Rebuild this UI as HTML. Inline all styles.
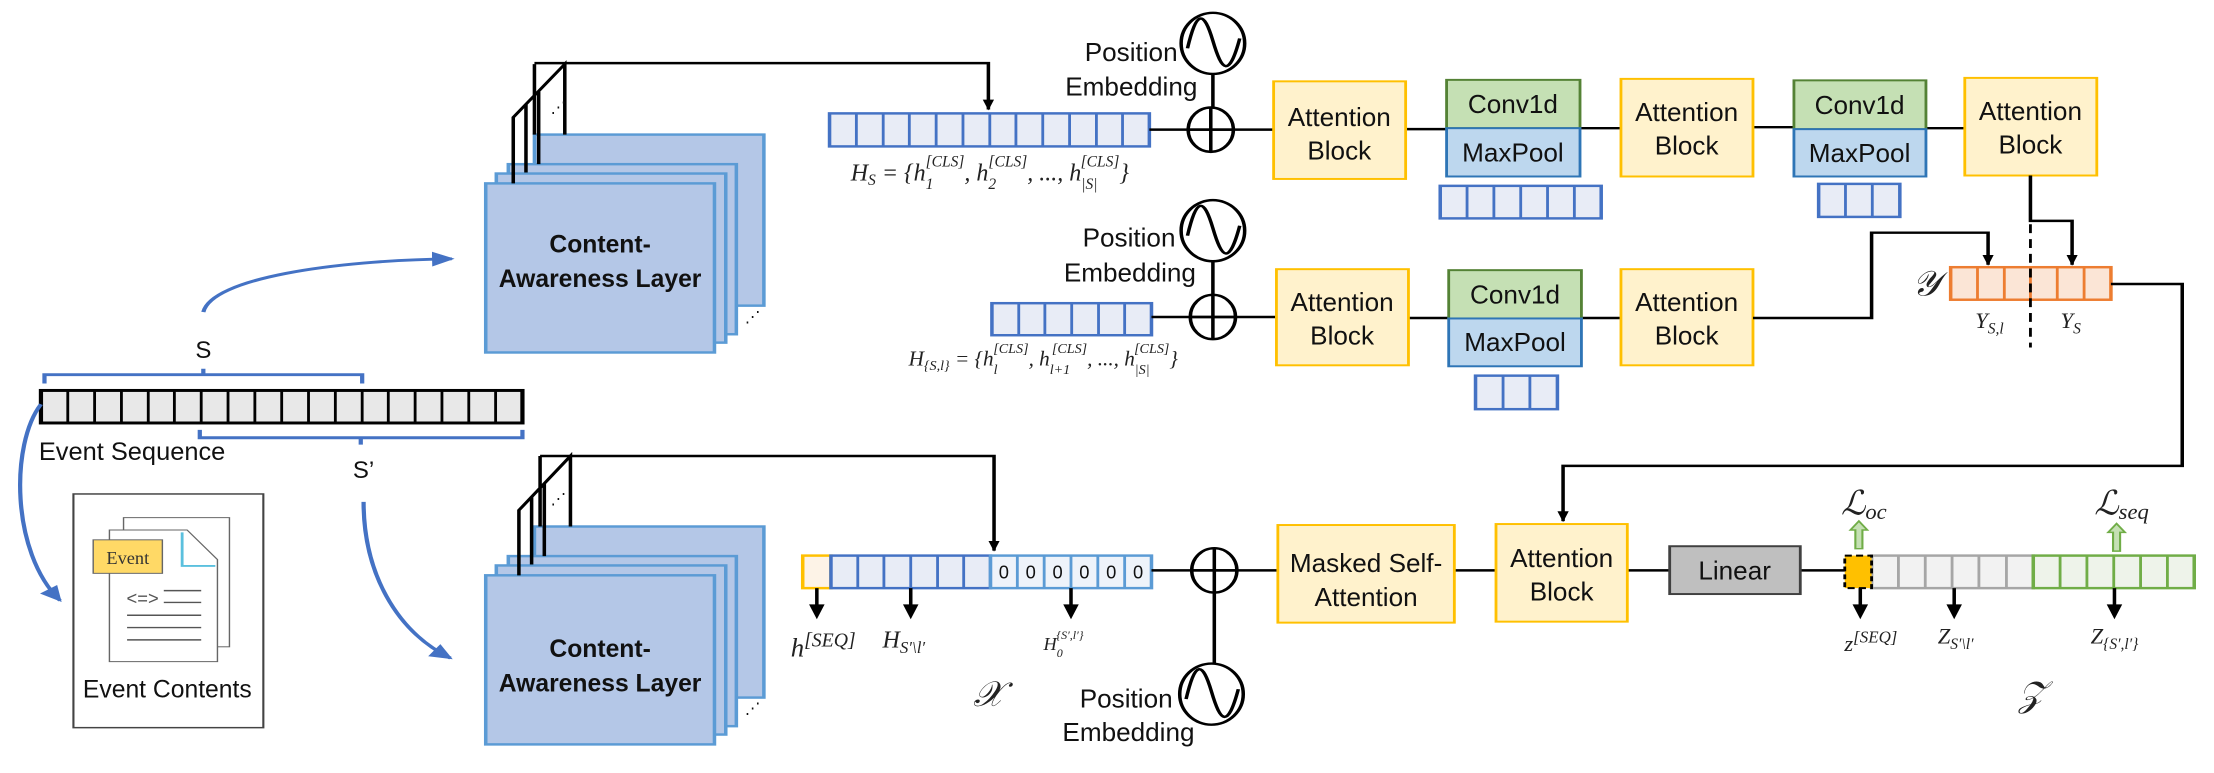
<!DOCTYPE html>
<html><head><meta charset="utf-8"><style>
html,body{margin:0;padding:0;background:#fff;overflow:hidden;}
svg{display:block;}
text{transform-box:fill-box;transform-origin:center;transform:scaleY(1.432);}
.t{font-family:"Liberation Sans",sans-serif;fill:#111;}
.m{font-family:"Liberation Serif",serif;font-style:italic;fill:#222;}
</style></head><body>
<svg width="2214" height="773" viewBox="0 0 3136 1568" preserveAspectRatio="none" xmlns="http://www.w3.org/2000/svg">
<defs>
<marker id="ah" markerUnits="userSpaceOnUse" markerWidth="24" markerHeight="24" refX="20" refY="10" orient="auto"><path d="M0,2 L22,10 L0,18 z" fill="#000"/></marker>
<marker id="bh" markerUnits="userSpaceOnUse" markerWidth="34" markerHeight="34" refX="28" refY="15" orient="auto"><path d="M0,0 L32,15 L0,30 z" fill="#4472c4"/></marker>
</defs>
<rect width="3136" height="1568" fill="#fff"/>

<!-- Event sequence -->
<rect x="58" y="792" width="682" height="66" fill="#e8e8e8" stroke="#000" stroke-width="6"/>
<path d="M96 792v66M134 792v66M172 792v66M210 792v66M247 792v66M285 792v66M323 792v66M361 792v66M399 792v66M437 792v66M475 792v66M513 792v66M550 792v66M588 792v66M626 792v66M664 792v66M702 792v66" stroke="#000" stroke-width="4"/>
<path d="M63 778V760H513V778M288 760V748" fill="none" stroke="#4472c4" stroke-width="6"/>
<path d="M283 872V888H740V872M511 888V902" fill="none" stroke="#4472c4" stroke-width="6"/>
<text class="t" x="288" y="722" font-size="34" text-anchor="middle">S</text>
<text class="t" x="515" y="965" font-size="34" text-anchor="middle">S’</text>
<text class="t" x="55" y="928" font-size="36">Event Sequence</text>

<!-- Event contents -->
<rect x="104" y="1002" width="269" height="474" fill="#fff" stroke="#444" stroke-width="3"/>
<rect x="175" y="1050" width="150" height="262" fill="#fff" stroke="#666" stroke-width="2"/>
<path d="M155 1075H265L308 1135V1342H155Z" fill="#fff" stroke="#666" stroke-width="2"/>
<path d="M258 1080V1148H305" fill="none" stroke="#5bc0de" stroke-width="4"/>
<rect x="132" y="1095" width="98" height="68" fill="#ffd966" stroke="#666" stroke-width="2"/>
<text x="181" y="1140" font-size="26" text-anchor="middle" font-family="Liberation Serif,serif" fill="#333">Event</text>
<text x="202" y="1222" font-size="26" text-anchor="middle" font-family="Liberation Sans,sans-serif" fill="#555">&lt;=&gt;</text>
<path d="M232 1198H285M232 1222H285M180 1248H285M180 1273H285M180 1298H285" stroke="#555" stroke-width="3"/>
<text class="t" x="237" y="1410" font-size="35" text-anchor="middle">Event Contents</text>

<!-- blue curved arrows -->
<path d="M288 633C300 565 470 528 640 525" fill="none" stroke="#4472c4" stroke-width="6" marker-end="url(#bh)"/>
<path d="M58 820C15 900 15 1120 85 1218" fill="none" stroke="#4472c4" stroke-width="6" marker-end="url(#bh)"/>
<path d="M515 1018C515 1160 560 1280 638 1335" fill="none" stroke="#4472c4" stroke-width="6" marker-end="url(#bh)"/>

<!-- CAL top -->
<g stroke="#5b9bd5" stroke-width="5" fill="#b4c7e7">
<rect x="757" y="273" width="325" height="347"/>
<rect x="720" y="333" width="323" height="345"/>
<rect x="703" y="352" width="325" height="343"/>
<rect x="688" y="372" width="324" height="343"/>
</g>
<text class="t" x="850" y="508" font-size="35" font-weight="bold" text-anchor="middle">Content-</text>
<text class="t" x="850" y="578" font-size="35" font-weight="bold" text-anchor="middle">Awareness Layer</text>
<path d="M727 372V238L800 130V273M745 350V212M763 333V186M757 130V273" fill="none" stroke="#000" stroke-width="5"/>
<path d="M757 128H1400V222" fill="none" stroke="#000" stroke-width="5" marker-end="url(#ah)"/>
<text x="780" y="225" font-size="22" class="t">⋰</text>
<text x="1055" y="650" font-size="22" class="t">⋰</text>

<!-- CAL bottom -->
<g stroke="#5b9bd5" stroke-width="5" fill="#b4c7e7">
<rect x="757" y="1068" width="325" height="347"/>
<rect x="720" y="1128" width="323" height="345"/>
<rect x="703" y="1147" width="325" height="343"/>
<rect x="688" y="1167" width="324" height="343"/>
</g>
<text class="t" x="850" y="1328" font-size="35" font-weight="bold" text-anchor="middle">Content-</text>
<text class="t" x="850" y="1398" font-size="35" font-weight="bold" text-anchor="middle">Awareness Layer</text>
<path d="M735 1167V1035L808 925V1068M753 1145V1007M771 1128V982M765 925V1068" fill="none" stroke="#000" stroke-width="5"/>
<path d="M765 925H1408V1117" fill="none" stroke="#000" stroke-width="5" marker-end="url(#ah)"/>
<text x="780" y="1020" font-size="22" class="t">⋰</text>
<text x="1055" y="1445" font-size="22" class="t">⋰</text>

<!-- H_S bar -->
<rect x="1175" y="230" width="453" height="67" fill="#e8ecf6" stroke="#4472c4" stroke-width="5"/>
<path d="M1213 230v67M1251 230v67M1288 230v67M1326 230v67M1364 230v67M1402 230v67M1439 230v67M1477 230v67M1515 230v67M1553 230v67M1590 230v67" stroke="#4472c4" stroke-width="4"/>
<text class="m" x="1205" y="362" font-size="34">H<tspan font-size="22" dy="6">S</tspan><tspan dy="-6"> = {h</tspan><tspan font-size="22" dy="12">1</tspan><tspan font-size="22" dx="-11" dy="-32">[CLS]</tspan><tspan dy="20">, h</tspan><tspan font-size="22" dy="12">2</tspan><tspan font-size="22" dx="-11" dy="-32">[CLS]</tspan><tspan dy="20">, ..., h</tspan><tspan font-size="22" dy="12">|S|</tspan><tspan font-size="22" dx="-24" dy="-32">[CLS]</tspan><tspan dy="20">}</tspan></text>

<!-- H_Sl bar -->
<rect x="1405" y="615" width="226" height="65" fill="#e8ecf6" stroke="#4472c4" stroke-width="5"/>
<path d="M1443 615v65M1480 615v65M1518 615v65M1556 615v65M1593 615v65" stroke="#4472c4" stroke-width="4"/>
<text class="m" x="1287" y="738" font-size="30">H<tspan font-size="20" dy="6">{S,l}</tspan><tspan dy="-6"> = {h</tspan><tspan font-size="20" dy="12">l</tspan><tspan font-size="20" dx="-6" dy="-30">[CLS]</tspan><tspan dy="18">, h</tspan><tspan font-size="20" dy="12">l+1</tspan><tspan font-size="20" dx="-26" dy="-30">[CLS]</tspan><tspan dy="18">, ..., h</tspan><tspan font-size="20" dy="12">|S|</tspan><tspan font-size="20" dx="-22" dy="-30">[CLS]</tspan><tspan dy="18">}</tspan></text>

<!-- X bar -->
<rect x="1137" y="1127" width="40" height="66" fill="#fdf3e7" stroke="#ffc000" stroke-width="5"/>
<rect x="1177" y="1127" width="226" height="66" fill="#e8ecf6" stroke="#4472c4" stroke-width="5"/>
<path d="M1215 1127v66M1252 1127v66M1290 1127v66M1328 1127v66M1365 1127v66" stroke="#4472c4" stroke-width="4"/>
<rect x="1403" y="1127" width="228" height="66" fill="#eef3fa" stroke="#5b9bd5" stroke-width="5"/>
<path d="M1441 1127v66M1479 1127v66M1517 1127v66M1555 1127v66M1593 1127v66" stroke="#5b9bd5" stroke-width="4"/>
<g class="t" font-size="26" text-anchor="middle"><text x="1422" y="1170">0</text><text x="1460" y="1170">0</text><text x="1498" y="1170">0</text><text x="1536" y="1170">0</text><text x="1574" y="1170">0</text><text x="1612" y="1170">0</text></g>
<path d="M1157 1193V1230M1290 1193V1230M1517 1193V1230" stroke="#000" stroke-width="5"/>
<path d="M1146 1226H1168L1157 1256ZM1279 1226H1301L1290 1256ZM1506 1226H1528L1517 1256Z" fill="#000"/>
<text class="m" x="1120" y="1325" font-size="38">h<tspan font-size="28" dy="-14">[SEQ]</tspan></text>
<text class="m" x="1250" y="1310" font-size="34">H<tspan font-size="24" dy="8">S′\l′</tspan></text>
<text class="m" x="1478" y="1315" font-size="26">H<tspan font-size="17" dy="10">0</tspan><tspan font-size="17" dx="-9" dy="-26">{S′,l′}</tspan></text>
<text class="m" x="1400" y="1425" font-size="50" text-anchor="middle">𝒳</text>

<!-- Position embeddings -->
<g class="t" font-size="37" text-anchor="end">
<text x="1668" y="118">Position</text><text x="1696" y="188">Embedding</text>
<text x="1665" y="495">Position</text><text x="1694" y="565">Embedding</text>
<text x="1661" y="1430">Position</text><text x="1692" y="1498">Embedding</text>
</g>
<g fill="#fff" stroke="#000" stroke-width="5">
<ellipse cx="1718" cy="88" rx="45" ry="62"/><ellipse cx="1718" cy="468" rx="45" ry="62"/><ellipse cx="1716" cy="1408" rx="45" ry="62"/>
</g>
<g fill="none" stroke="#000" stroke-width="5">
<path d="M1682 98C1695 20 1705 20 1718 83S1741 158 1756 78"/>
<path d="M1682 478C1695 400 1705 400 1718 463S1741 538 1756 458"/>
<path d="M1680 1418C1693 1340 1703 1340 1716 1403S1739 1478 1754 1398"/>
<path d="M1718 150V218M1718 530V598M1720 1202V1346"/>
<path d="M1628 263H1804M1631 643H1808M1631 1157H1810"/>
<ellipse cx="1715" cy="263" rx="32" ry="45"/><path d="M1683 263H1747M1715 218V308"/>
<ellipse cx="1718" cy="643" rx="32" ry="45"/><path d="M1686 643H1750M1718 598V688"/>
<ellipse cx="1720" cy="1157" rx="32" ry="45"/><path d="M1688 1157H1752M1720 1112V1202"/>
<path d="M1991 262H2049M2238 260H2296M2483 258H2541M2728 260H2783"/>
<path d="M1995 645H2052M2240 645H2296"/>
<path d="M2060 1157H2119M2305 1157H2365M2550 1157H2613"/>
</g>

<!-- blocks -->
<g stroke="#ffc000" stroke-width="4" fill="#fff2cc">
<rect x="1804" y="165" width="187" height="198"/>
<rect x="2296" y="160" width="187" height="198"/>
<rect x="2783" y="158" width="187" height="198"/>
<rect x="1808" y="546" width="187" height="195"/>
<rect x="2296" y="546" width="187" height="195"/>
<rect x="1810" y="1065" width="250" height="198"/>
<rect x="2119" y="1063" width="186" height="198"/>
</g>
<g stroke="#548235" stroke-width="4" fill="#c5e0b4">
<rect x="2049" y="162" width="189" height="98"/><rect x="2541" y="163" width="187" height="99"/><rect x="2052" y="548" width="188" height="98"/>
</g>
<g stroke="#2e75b6" stroke-width="4" fill="#bdd7ee">
<rect x="2049" y="260" width="189" height="98"/><rect x="2541" y="262" width="187" height="96"/><rect x="2052" y="646" width="188" height="97"/>
</g>
<rect x="2365" y="1108" width="185" height="97" fill="#bfbfbf" stroke="#404040" stroke-width="4"/>
<g class="t" font-size="37" text-anchor="middle">
<text x="1897" y="250">Attention</text><text x="1897" y="318">Block</text>
<text x="2389" y="240">Attention</text><text x="2389" y="308">Block</text>
<text x="2876" y="238">Attention</text><text x="2876" y="306">Block</text>
<text x="1901" y="625">Attention</text><text x="1901" y="693">Block</text>
<text x="2389" y="625">Attention</text><text x="2389" y="693">Block</text>
<text x="1935" y="1155">Masked Self-</text><text x="1935" y="1224">Attention</text>
<text x="2212" y="1145">Attention</text><text x="2212" y="1213">Block</text>
<text x="2143" y="224">Conv1d</text><text x="2143" y="322">MaxPool</text>
<text x="2634" y="226">Conv1d</text><text x="2634" y="323">MaxPool</text>
<text x="2146" y="610">Conv1d</text><text x="2146" y="707">MaxPool</text>
<text x="2457" y="1170">Linear</text>
</g>

<!-- small bars -->
<g stroke="#4472c4" stroke-width="5" fill="#e8ecf6">
<rect x="2040" y="377" width="228" height="66"/><rect x="2576" y="373" width="115" height="67"/><rect x="2090" y="762" width="116" height="68"/>
</g>
<path d="M2078 377v66M2116 377v66M2154 377v66M2192 377v66M2230 377v66M2614 373v67M2652 373v67M2129 762v68M2167 762v68" stroke="#4472c4" stroke-width="4"/>

<!-- Y bar -->
<path d="M2876 356V448H2935V537" fill="none" stroke="#000" stroke-width="5" marker-end="url(#ah)"/>
<path d="M2483 645H2651V472H2816V537" fill="none" stroke="#000" stroke-width="5" marker-end="url(#ah)"/>
<rect x="2763" y="542" width="227" height="66" fill="#fbe5d6" stroke="#ed7d31" stroke-width="5"/>
<path d="M2801 542v66M2839 542v66M2876 542v66M2914 542v66M2952 542v66" stroke="#ed7d31" stroke-width="4"/>
<path d="M2876 455V705" stroke="#000" stroke-width="4" stroke-dasharray="18 12"/>
<text class="m" x="2728" y="592" font-size="50" text-anchor="middle">𝒴</text>
<text class="m" x="2818" y="662" font-size="32" text-anchor="middle">Y<tspan font-size="22" dy="8">S,l</tspan></text>
<text class="m" x="2933" y="662" font-size="32" text-anchor="middle">Y<tspan font-size="22" dy="8">S</tspan></text>
<path d="M2990 576H3091V945H2214V1057" fill="none" stroke="#000" stroke-width="5" marker-end="url(#ah)"/>

<!-- Z bar -->
<rect x="2651" y="1127" width="229" height="66" fill="#f2f2f2" stroke="#a6a6a6" stroke-width="5"/>
<path d="M2689 1127v66M2727 1127v66M2765 1127v66M2803 1127v66M2842 1127v66" stroke="#a6a6a6" stroke-width="4"/>
<rect x="2880" y="1127" width="228" height="66" fill="#eef3ea" stroke="#70ad47" stroke-width="5"/>
<path d="M2918 1127v66M2956 1127v66M2994 1127v66M3032 1127v66M3070 1127v66" stroke="#70ad47" stroke-width="4"/>
<rect x="2613" y="1127" width="38" height="66" fill="#ffc000" stroke="#000" stroke-width="4" stroke-dasharray="10 6"/>
<path d="M2628 1113V1075H2621L2633 1057L2645 1075H2638V1113Z" fill="#c5e0b4" stroke="#70ad47" stroke-width="3"/>
<path d="M2993 1118V1080H2986L2998 1062L3010 1080H3003V1118Z" fill="#c5e0b4" stroke="#70ad47" stroke-width="3"/>
<text class="m" x="2640" y="1038" font-size="48" text-anchor="middle">ℒ<tspan font-size="32" dy="6">oc</tspan></text>
<text class="m" x="3005" y="1038" font-size="48" text-anchor="middle">ℒ<tspan font-size="32" dy="6">seq</tspan></text>
<path d="M2635 1193V1230M2768 1193V1230M2995 1193V1230" stroke="#000" stroke-width="5"/>
<path d="M2624 1226H2646L2635 1256ZM2757 1226H2779L2768 1256ZM2984 1226H3006L2995 1256Z" fill="#000"/>
<text class="m" x="2650" y="1315" font-size="32" text-anchor="middle">z<tspan font-size="24" dy="-12">[SEQ]</tspan></text>
<text class="m" x="2770" y="1302" font-size="32" text-anchor="middle">Z<tspan font-size="22" dy="8">S′\l′</tspan></text>
<text class="m" x="2995" y="1302" font-size="32" text-anchor="middle">Z<tspan font-size="22" dy="8">{S′,l′}</tspan></text>
<text class="m" x="2878" y="1425" font-size="50" text-anchor="middle">𝒵</text>
</svg>
</body></html>
